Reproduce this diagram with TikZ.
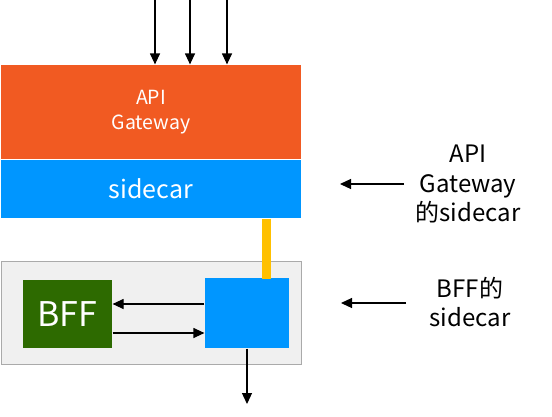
\documentclass[tikz,border=0pt]{standalone}
\usepackage{fontspec}
\setmainfont{Noto Sans CJK SC}
\usetikzlibrary{arrows.meta}
\definecolor{gwOrange}{HTML}{F15A22}
\definecolor{scBlue}{HTML}{0096FF}
\definecolor{bffGreen}{HTML}{2D6A00}
\definecolor{linkYellow}{HTML}{FFC000}
\definecolor{groupGray}{HTML}{F0F0F0}
\definecolor{groupBorder}{HTML}{AAAAAA}

\begin{document}
\begin{tikzpicture}[x=1pt,y=-1pt,line width=1.2pt,>={Triangle[length=11pt,width=10pt]}]
    %
    % `block' is used for the filled boxes, `group' for the grey frame.
    % `label' is used for the notes on the right.
    \tikzstyle{block} = [inner sep=0pt,text=white,align=center]
    \tikzstyle{group} = [draw=groupBorder,fill=groupGray,line width=1pt,inner sep=0pt]
    \tikzstyle{label} = [align=center,font=\fontsize{24}{29.5}\selectfont]
    \useasboundingbox (0,0) rectangle (552,416);
    %
    % Gateway and its sidecar
    \node[block,fill=gwOrange,minimum width=300pt,minimum height=94pt,font=\fontsize{19.5}{25}\selectfont] (gw) at (151,112) {API\\Gateway};
    \node[block,fill=scBlue,minimum width=300pt,minimum height=58pt,font=\fontsize{25}{28}\selectfont] (gwsc) at (151,189) {sidecar};
    %
    % Incoming requests
    \coordinate (in1) at (155,0);
    \coordinate (in2) at (190,0);
    \coordinate (in3) at (227,0);
    \draw[->] (in1) -- (in1 |- gw.north);
    \draw[->] (in2) -- (in2 |- gw.north);
    \draw[->] (in3) -- (in3 |- gw.north);
    %
    % BFF group
    \node[group,minimum width=300pt,minimum height=103pt] (grp) at (151,312.5) {};
    \node[block,fill=bffGreen,minimum width=89pt,minimum height=68pt,font=\fontsize{34}{36}\selectfont] (bff) at (67.5,314) {BFF};
    \node[block,fill=scBlue,minimum width=84pt,minimum height=70pt] (bffsc) at (247,313) {};
    %
    % Link between the sidecars
    \draw[linkYellow,line width=9pt] (gwsc.south -| 266.5,0) -- ([yshift=-2pt]bffsc.north -| 266.5,0);
    %
    % BFF <-> sidecar
    \draw[->] ([yshift=9pt]bffsc.west) -- ([yshift=10pt]bff.east);
    \draw[->] ([yshift=-19pt]bff.east) -- ([yshift=-20pt]bffsc.west);
    %
    % Outgoing
    \coordinate (out) at (247,404);
    \draw[->] (bffsc.south) -- (out);
    %
    % Notes
    \node[label] (note1) at (468,184) {API\\Gateway\\的sidecar};
    \coordinate (n1s) at (404,184);
    \coordinate (n1e) at (340,184);
    \draw[->] (n1s) -- (n1e);
    \node[label] (note2) at (470,302) {BFF的\\sidecar};
    \coordinate (n2s) at (406,303);
    \coordinate (n2e) at (341,303);
    \draw[->] (n2s) -- (n2e);
    %
\end{tikzpicture}
\end{document}
